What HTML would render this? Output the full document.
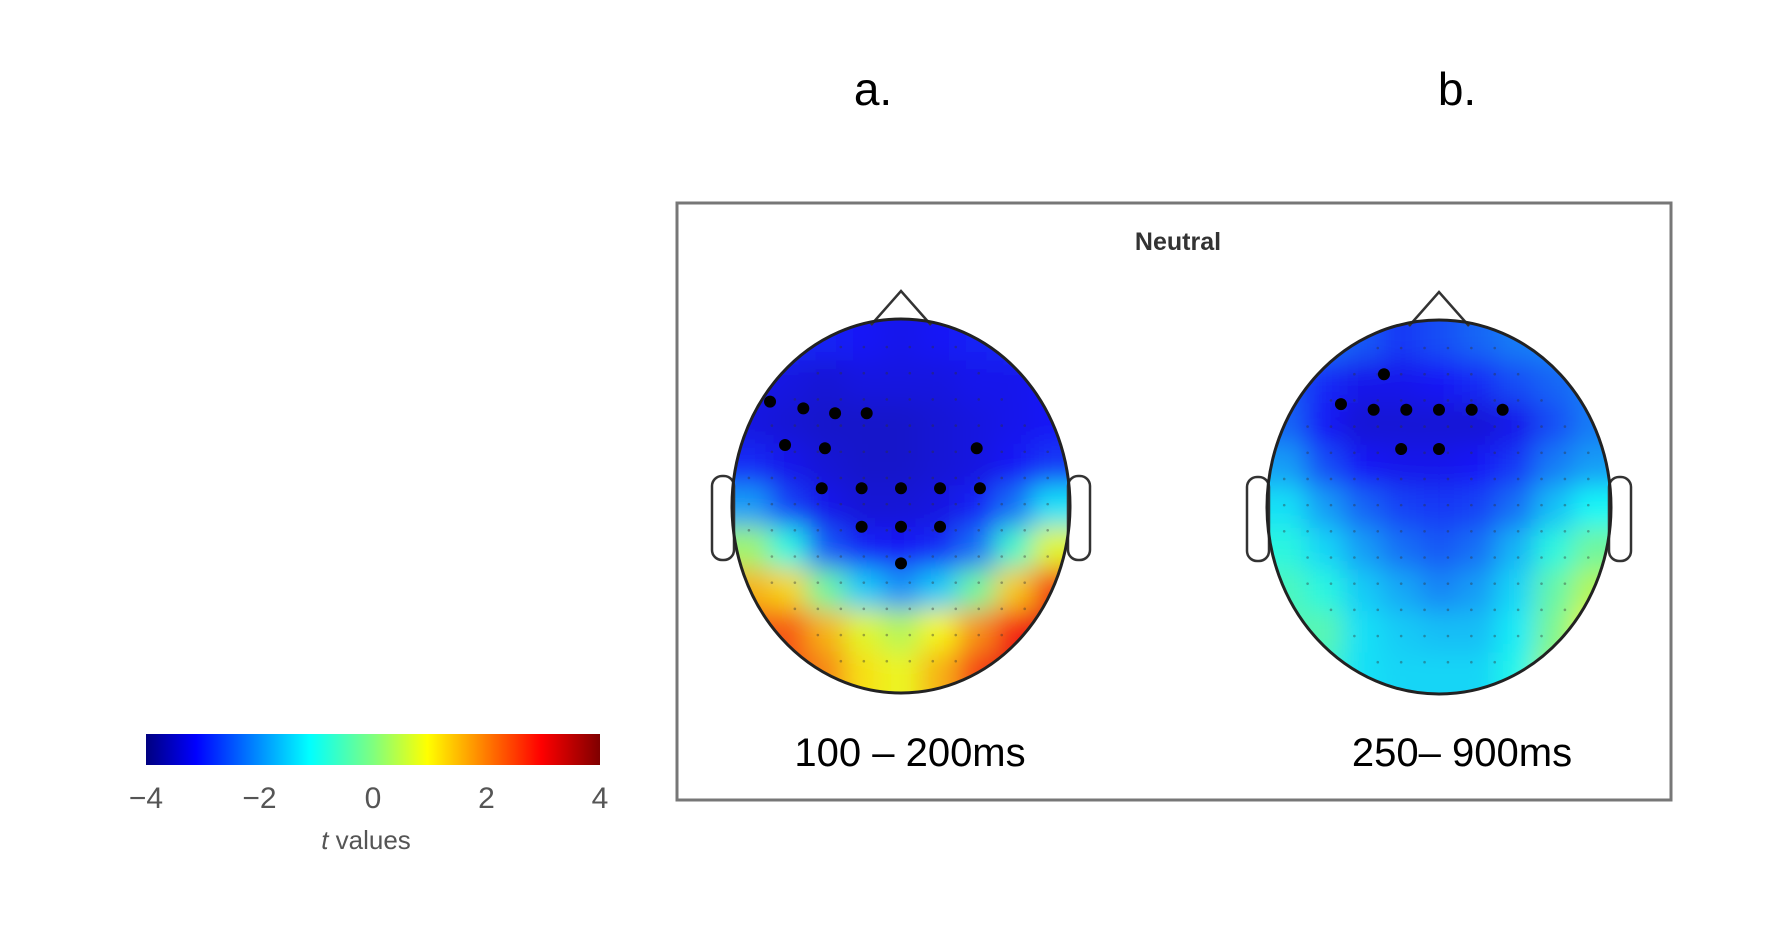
<!DOCTYPE html>
<html><head><meta charset="utf-8"><style>
html,body{margin:0;padding:0;background:#fff;width:1776px;height:926px;overflow:hidden}
svg{display:block}
</style></head><body>
<svg id="fig" width="1776" height="926" viewBox="0 0 1776 926" xmlns="http://www.w3.org/2000/svg">
<defs>
<filter id="blur" x="-20%" y="-20%" width="140%" height="140%"><feGaussianBlur stdDeviation="13" edgeMode="duplicate"/></filter>
<linearGradient id="jet" x1="0" x2="1" y1="0" y2="0">
<stop offset="0" stop-color="#00007f"/><stop offset="0.11" stop-color="#0000ff"/><stop offset="0.36" stop-color="#00ffff"/><stop offset="0.5" stop-color="#7fff7f"/><stop offset="0.62" stop-color="#ffff00"/><stop offset="0.87" stop-color="#ff0000"/><stop offset="1" stop-color="#7f0000"/>
</linearGradient>
</defs>
<text x="873" y="105" font-family="Liberation Sans, sans-serif" font-size="46" text-anchor="middle">a.</text>
<text x="1457" y="105" font-family="Liberation Sans, sans-serif" font-size="46" text-anchor="middle">b.</text>
<rect x="677" y="203" width="994" height="597" fill="none" stroke="#777" stroke-width="3"/>
<text x="1178" y="250" font-family="Liberation Sans, sans-serif" font-size="25" font-weight="bold" fill="#333" text-anchor="middle">Neutral</text>
<g id="maps"></g>
<text x="910" y="766" font-family="Liberation Sans, sans-serif" font-size="40" text-anchor="middle">100 – 200ms</text>
<text x="1462" y="766" font-family="Liberation Sans, sans-serif" font-size="40" text-anchor="middle">250– 900ms</text>
<g>
<rect x="146" y="734" width="454" height="31" fill="url(#jet)"/>
<g id="cbticks"></g>
<text x="366" y="849" font-family="Liberation Sans, sans-serif" font-size="26" fill="#555" text-anchor="middle"><tspan font-style="italic">t</tspan> values</text>
</g>
</svg>
<script>
const cbTicks = [-4, -2, 0, 2, 4];
const tMin = -4, tMax = 4;
const mapAValues = [
[-2.8,-2.8,-2.9,-3.0,-3.1,-3.0,-2.9,-2.8,-2.8],
[-3.1,-3.2,-3.3,-3.2,-3.2,-3.2,-3.1,-3.1,-3.0],
[-3.2,-3.3,-3.4,-3.4,-3.4,-3.3,-3.2,-3.1,-3.0],
[-2.8,-3.1,-3.3,-3.4,-3.4,-3.3,-3.2,-3.0,-2.7],
[-1.8,-2.6,-3.1,-3.3,-3.3,-3.2,-2.9,-2.2,-1.2],
[0.2,-0.8,-2.4,-2.9,-3.0,-2.8,-2.2,-0.6,0.8],
[1.6,1.3,-0.2,-1.4,-1.9,-1.4,-0.2,1.4,2.6],
[2.4,2.4,1.6,0.8,0.4,1.0,1.9,2.9,3.2],
[2.4,2.5,2.0,1.2,0.9,1.6,2.6,3.2,3.3]];
const mapBValues = [
[-2.2,-2.2,-2.4,-2.7,-2.5,-2.3,-2.1,-2.0,-2.0],
[-2.4,-2.8,-3.1,-3.1,-3.0,-2.8,-2.5,-2.3,-2.1],
[-2.3,-3.0,-3.3,-3.3,-3.3,-3.3,-3.1,-2.5,-2.1],
[-1.8,-2.5,-3.0,-3.1,-3.1,-3.0,-2.7,-2.1,-1.8],
[-1.2,-1.8,-2.3,-2.6,-2.7,-2.6,-2.2,-1.5,-1.0],
[-0.8,-1.3,-1.8,-2.2,-2.4,-2.2,-1.6,-0.8,-0.2],
[-0.5,-0.8,-1.4,-1.7,-2.0,-1.8,-1.3,-0.3,0.4],
[-0.4,-0.4,-1.2,-1.4,-1.5,-1.5,-1.1,-0.1,0.9],
[-0.5,-0.6,-1.2,-1.3,-1.3,-1.3,-0.9,0.2,0.8]];
const sigA = [[-0.775,-0.558],[-0.578,-0.522],[-0.39,-0.496],[-0.203,-0.496],[-0.686,-0.326],[-0.45,-0.309],[0.448,-0.309],[-0.469,-0.095],[-0.233,-0.095],[0,-0.095],[0.231,-0.095],[0.467,-0.095],[-0.233,0.111],[0,0.111],[0.231,0.111],[0,0.307]];
const sigB = [[-0.32,-0.71],[-0.57,-0.55],[-0.38,-0.52],[-0.19,-0.52],[0,-0.52],[0.19,-0.52],[0.37,-0.52],[-0.22,-0.31],[0,-0.31]];

const NS='http://www.w3.org/2000/svg';
function mk(tag, attrs, parent){const e=document.createElementNS(NS,tag);for(const k in attrs)e.setAttribute(k,attrs[k]);parent.appendChild(e);return e;}
function jet(v){
  let t=(v-tMin)/(tMax-tMin); t=Math.max(0,Math.min(1,t));
  const f=x=>Math.max(0,Math.min(1,1.5-Math.abs(4*t-x)));
  const r=f(3),g=f(2),b=f(1);
  // slight desaturation to match the soft scanned look
  const mix=c=>Math.round(c*255*0.88+22);
  return `rgb(${mix(r)},${mix(g)},${mix(b)})`;
}
function cbX(v){return 146+(v-tMin)/(tMax-tMin)*454;}
const cbg=document.getElementById('cbticks');
cbTicks.forEach(v=>{
  const t=mk('text',{x:cbX(v),y:808,'font-family':'Liberation Sans, sans-serif','font-size':'30',fill:'#555','text-anchor':'middle'},cbg);
  t.textContent=(v<0?'\u2212':'')+Math.abs(v);
  
  
});

const maps=document.getElementById('maps');
function drawHead(id,cx,cy,rx,ry,vals,sig){
  const g=mk('g',{},maps);
  
  
  const cp=mk('clipPath',{id:'clip'+id},g);
  mk('ellipse',{cx:cx,cy:cy,rx:rx,ry:ry},cp);
  const clipG=mk('g',{'clip-path':'url(#clip'+id+')'},g);
  const blurG=mk('g',{filter:'url(#blur)'},clipG);
  const n=vals.length, m=vals[0].length;
  const cw=2*rx/m, ch=2*ry/n, pad=40;
  for(let i=0;i<n;i++)for(let j=0;j<m;j++){
    let x=cx-rx+j*cw, y=cy-ry+i*ch, w=cw+0.5, h=ch+0.5;
    if(j===0){x-=pad;w+=pad;} if(j===m-1){w+=pad;}
    if(i===0){y-=pad;h+=pad;} if(i===n-1){h+=pad;}
    const r=mk('rect',{x:x,y:y,width:w,height:h,fill:jet(vals[i][j])},blurG);
    
    
  }
  for(let yy=-0.85;yy<=0.9;yy+=0.14)for(let xx=-0.9;xx<=0.9;xx+=0.136){
    if(xx*xx+yy*yy<0.85){const d=mk('circle',{cx:cx+xx*rx,cy:cy+yy*ry,r:1.3,fill:'#333',opacity:0.4},clipG);
      }
  }
  sig.forEach(p=>{
    const d=mk('circle',{cx:cx+p[0]*rx,cy:cy+p[1]*ry,r:6,fill:'#000'},g);
    
    
  });
  const h=mk('ellipse',{cx:cx,cy:cy,rx:rx,ry:ry,fill:'none',stroke:'#222','stroke-width':3},g);
  
  const nose=mk('polyline',{points:`${cx-30},${cy-ry+6} ${cx},${cy-ry-28} ${cx+30},${cy-ry+6}`,fill:'none',stroke:'#333','stroke-width':2.5},g);
  
  [-1,1].forEach(s=>{
    const ex=cx+s*(rx+9);
    const e=mk('rect',{x:ex-11,y:cy-30,width:22,height:84,rx:10,fill:'#fff',stroke:'#333','stroke-width':2.5},g);
    
  });
  g.appendChild(h);
}
drawHead('a',901,506,169,187,mapAValues,sigA);
drawHead('b',1439,507,172,187,mapBValues,sigB);
</script>
</body></html>
